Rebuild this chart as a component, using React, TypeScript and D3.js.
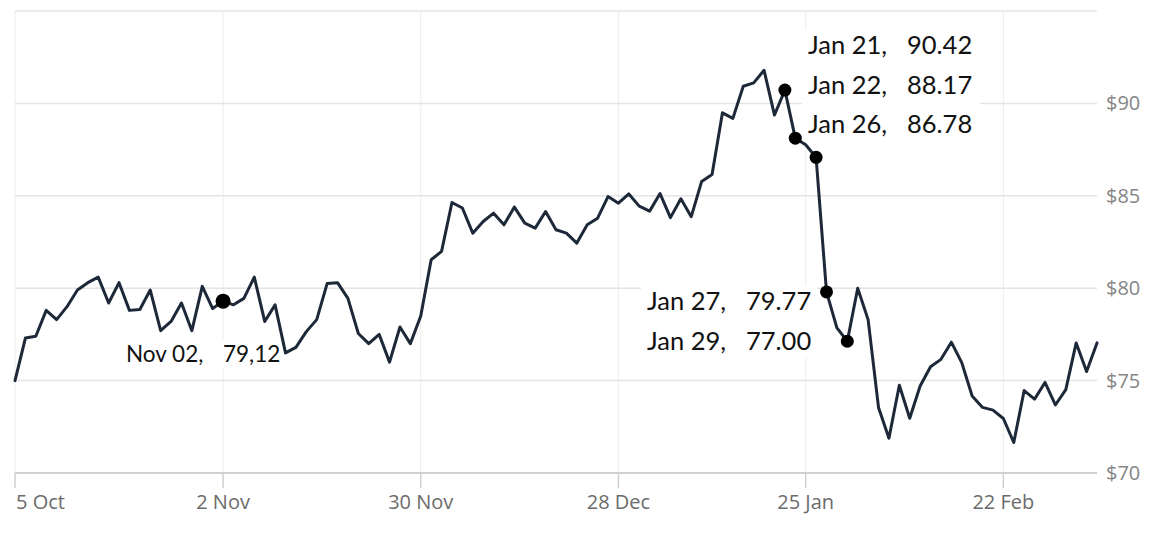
import React from "react";
import * as d3 from "d3";

// Trading days (ordinal x axis)
const dates: string[] = [
  "2015-10-05","2015-10-06","2015-10-07","2015-10-08","2015-10-09",
  "2015-10-12","2015-10-13","2015-10-14","2015-10-15","2015-10-16",
  "2015-10-19","2015-10-20","2015-10-21","2015-10-22","2015-10-23",
  "2015-10-26","2015-10-27","2015-10-28","2015-10-29","2015-10-30",
  "2015-11-02","2015-11-03","2015-11-04","2015-11-05","2015-11-06",
  "2015-11-09","2015-11-10","2015-11-11","2015-11-12","2015-11-13",
  "2015-11-16","2015-11-17","2015-11-18","2015-11-19","2015-11-20",
  "2015-11-23","2015-11-24","2015-11-25","2015-11-27",
  "2015-11-30","2015-12-01","2015-12-02","2015-12-03","2015-12-04",
  "2015-12-07","2015-12-08","2015-12-09","2015-12-10","2015-12-11",
  "2015-12-14","2015-12-15","2015-12-16","2015-12-17","2015-12-18",
  "2015-12-21","2015-12-22","2015-12-23","2015-12-24",
  "2015-12-28","2015-12-29","2015-12-30","2015-12-31",
  "2016-01-04","2016-01-05","2016-01-06","2016-01-07","2016-01-08",
  "2016-01-11","2016-01-12","2016-01-13","2016-01-14","2016-01-15",
  "2016-01-19","2016-01-20","2016-01-21","2016-01-22",
  "2016-01-25","2016-01-26","2016-01-27","2016-01-28","2016-01-29",
  "2016-02-01","2016-02-02","2016-02-03","2016-02-04","2016-02-05",
  "2016-02-08","2016-02-09","2016-02-10","2016-02-11","2016-02-12",
  "2016-02-16","2016-02-17","2016-02-18","2016-02-19",
  "2016-02-22","2016-02-23","2016-02-24","2016-02-25","2016-02-26",
  "2016-02-29","2016-03-01","2016-03-02","2016-03-03","2016-03-04",
];

const prices: number[] = [
  75.0, 77.3, 77.4, 78.8, 78.3, 79.0, 79.9, 80.3, 80.6, 79.2,
  80.3, 78.8, 78.85, 79.9, 77.7, 78.2, 79.2, 77.7, 80.1, 78.9,
  79.3, 79.1, 79.45, 80.6, 78.2, 79.1, 76.5, 76.8, 77.65, 78.3,
  80.25, 80.3, 79.45, 77.55, 77.0, 77.5, 76.0, 77.9, 77.0,
  78.5, 81.54, 81.99, 84.64, 84.34, 82.98, 83.61, 84.06, 83.43, 84.39,
  83.52, 83.25, 84.15, 83.16, 82.98, 82.44, 83.43, 83.79, 84.96,
  84.6, 85.1, 84.44, 84.17, 85.12, 83.82, 84.84, 83.87, 85.78, 86.15,
  89.49, 89.19, 90.93, 91.11, 91.79, 89.37, 90.72, 88.12,
  87.76, 87.08, 79.8, 77.85, 77.13, 80.0, 78.3, 73.55, 71.88, 74.75,
  72.96, 74.71, 75.75, 76.15, 77.08, 75.97, 74.17, 73.55, 73.4,
  72.95, 71.65, 74.46, 74.0, 74.9, 73.68, 74.51, 77.04, 75.49, 77.04,
];

const xTickDates = ["2015-10-05", "2015-11-02", "2015-11-30", "2015-12-28", "2016-01-25", "2016-02-22"];
const xTickLabels = ["5 Oct", "2 Nov", "30 Nov", "28 Dec", "25 Jan", "22 Feb"];

const yTickValues = [70, 75, 80, 85, 90];
const yTickLabels = ["$70", "$75", "$80", "$85", "$90"];
const yGridValues = [70, 75, 80, 85, 90, 95];

const annDates = ["2015-11-02", "2016-01-21", "2016-01-22", "2016-01-26", "2016-01-27", "2016-01-29"];
const annDateLabels = ["Nov 02,", "Jan 21,", "Jan 22,", "Jan 26,", "Jan 27,", "Jan 29,"];
const annValueLabels = ["79,12", "90.42", "88.17", "86.78", "79.77", "77.00"];

// layout of annotation text blocks (indices into the annotation arrays)
const annBlocks = [
  { items: [0], x: 126, valueDx: 97, y0: 362, step: 40, fontSize: 22.5, boxW: 160 },
  { items: [1, 2, 3], x: 808, valueDx: 99, y0: 54, step: 39.5, fontSize: 25.5, boxW: 178 },
  { items: [4, 5], x: 647, valueDx: 99, y0: 310, step: 40, fontSize: 25.5, boxW: 176 },
];

const W = 1153;
const H = 545;
const LEFT = 15;
const RIGHT = 1097;
const TOP = 11;
const BOTTOM = 473;

export default function App() {
  const x = d3.scalePoint<string>().domain(dates).range([LEFT, RIGHT]);
  const y = d3.scaleLinear().domain([70, 95]).range([BOTTOM, TOP]);
  const line = d3
    .line<number>()
    .x((_, i) => x(dates[i]) as number)
    .y((d) => y(d));

  const priceOf = (dt: string) => prices[dates.indexOf(dt)];

  return (
    <svg
      width={W}
      height={H}
      viewBox={`0 0 ${W} ${H}`}
      style={{ position: "absolute", left: 0, top: 0, display: "block", background: "#fff" }}
    >
      <rect x={0} y={0} width={W} height={H} fill="#fff" />
      {/* vertical grid lines */}
      {xTickDates.map((d) => (
        <line
          key={"vg" + d}
          x1={x(d)}
          x2={x(d)}
          y1={TOP}
          y2={BOTTOM}
          stroke="#ededed"
          strokeWidth={1}
        />
      ))}
      {/* horizontal grid lines */}
      {yGridValues.map((v) => (
        <line
          key={"hg" + v}
          x1={LEFT}
          x2={RIGHT}
          y1={y(v)}
          y2={y(v)}
          stroke={v === 70 ? "#cfcfcf" : "#e4e4e4"}
          strokeWidth={v === 70 ? 2 : 1.5}
        />
      ))}
      {/* x ticks */}
      {xTickDates.map((d, i) => (
        <g key={"xt" + d}>
          <line x1={x(d)} x2={x(d)} y1={BOTTOM} y2={BOTTOM + 15} stroke="#cfcfcf" strokeWidth={1.5} />
          <text
            x={i === 0 ? (x(d) as number) + 1 : x(d)}
            y={509}
            textAnchor={i === 0 ? "start" : "middle"}
            fontFamily="'Open Sans', sans-serif"
            fontSize={20}
            fill="#6b6b6b"
          >
            {xTickLabels[i]}
          </text>
        </g>
      ))}
      {/* y labels */}
      {yTickValues.map((v, i) => (
        <text
          key={"yt" + v}
          x={1106}
          y={y(v) + 7}
          textAnchor="start"
          fontFamily="'Open Sans', sans-serif"
          fontSize={20}
          fill="#858585"
        >
          {yTickLabels[i]}
        </text>
      ))}
      {/* annotation backgrounds */}
      {annBlocks.map((b, bi) => (
        <rect
          key={"ab" + bi}
          x={b.x - 6}
          y={b.y0 - b.fontSize * 0.95}
          width={b.boxW}
          height={(b.items.length - 1) * b.step + b.fontSize * 1.25}
          fill="#fff"
        />
      ))}
      {/* price line */}
      <path
        d={line(prices) ?? ""}
        fill="none"
        stroke="#1d2838"
        strokeWidth={3}
        strokeLinejoin="round"
        strokeLinecap="round"
      />
      {/* annotation dots */}
      {annDates.map((d, i) => (
        <circle key={"dot" + d} cx={x(d)} cy={y(priceOf(d))} r={i === 0 ? 7.5 : 6.5} fill="#000" />
      ))}
      {/* annotation texts */}
      {annBlocks.map((b, bi) =>
        b.items.map((ai, k) => (
          <g key={"at" + bi + "-" + k} fontFamily="Lato, 'Noto Sans', sans-serif" fontSize={b.fontSize} fill="#111">
            <text x={b.x} y={b.y0 + k * b.step}>
              {annDateLabels[ai]}
            </text>
            <text x={b.x + b.valueDx} y={b.y0 + k * b.step}>
              {annValueLabels[ai]}
            </text>
          </g>
        ))
      )}
    </svg>
  );
}
